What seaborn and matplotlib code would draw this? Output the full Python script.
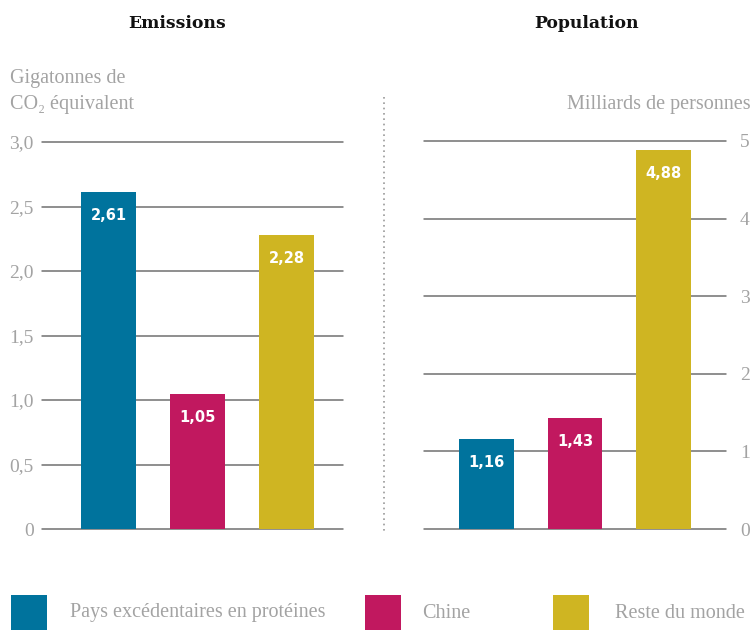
import matplotlib
matplotlib.use("Agg")
import matplotlib.pyplot as plt
import seaborn as sns
import pandas as pd
from matplotlib.patches import Rectangle
from matplotlib.lines import Line2D

# Data
categories = ["Pays excédentaires en protéines", "Chine", "Reste du monde"]
emissions = [2.61, 1.05, 2.28]
population = [1.16, 1.43, 4.88]
emission_ticks = [0, 0.5, 1.0, 1.5, 2.0, 2.5, 3.0]
emission_tick_labels = ["0", "0,5", "1,0", "1,5", "2,0", "2,5", "3,0"]
population_ticks = [0, 1, 2, 3, 4, 5]
population_tick_labels = ["0", "1", "2", "3", "4", "5"]
colors = ["#00739d", "#c1185f", "#cfb522"]

sns.set_theme(style="white")
plt.rcParams["font.family"] = ["DejaVu Sans"]

W, H = 753, 630
fig = plt.figure(figsize=(W / 100, H / 100), dpi=100)

LIGHT = ["Liberation Serif", "DejaVu Serif"]
GREY_TXT = "#a3a3a3"
GRID = "#707070"


def px_axes(x0, x1, ytop, ybot):
    return fig.add_axes([x0 / W, (H - ybot) / H, (x1 - x0) / W, (ybot - ytop) / H])


def draw_panel(ax, values, ticks, tick_labels, ymax, xlim, right):
    df = pd.DataFrame({"cat": categories, "val": values})
    sns.barplot(data=df, x="cat", y="val", hue="cat", palette=colors,
                legend=False, ax=ax, width=0.62, saturation=1, zorder=3,
                linewidth=0, edgecolor="none")
    ax.set_ylim(0, ymax)
    ax.set_xlim(*xlim)
    ax.set_xticks([])
    ax.set_xlabel("")
    ax.set_ylabel("")
    ax.set_yticks(ticks)
    ax.set_yticklabels(tick_labels, family=LIGHT, fontsize=14, color=GREY_TXT)
    for s in ax.spines.values():
        s.set_visible(False)
    ax.set_facecolor("none")
    for t in ticks:
        ax.axhline(t, color=GRID, lw=1.1, zorder=1, clip_on=False)
    if right:
        ax.yaxis.tick_right()
        ax.tick_params(axis="y", length=0, pad=10)
    else:
        ax.tick_params(axis="y", length=0, pad=6)
    for i, v in enumerate(values):
        ax.annotate(f"{v:.2f}".replace(".", ","), (i, v), xytext=(0, -17),
                    textcoords="offset points", ha="center", va="center",
                    color="white", fontsize=10.5, fontweight="bold", zorder=5)


ax1 = px_axes(42, 343, 142, 529)
draw_panel(ax1, emissions, emission_ticks, emission_tick_labels, 3.0,
           (-0.747, 2.635), right=False)

ax2 = px_axes(424, 726, 141, 529)
draw_panel(ax2, population, population_ticks, population_tick_labels, 5.0,
           (-0.706, 2.706), right=True)

# Panel titles
fig.text(177 / W, 1 - 23 / H, "Emissions", ha="center", va="center",
         family="DejaVu Serif", fontweight="bold", fontsize=12.4, color="#111111")
fig.text(587 / W, 1 - 23 / H, "Population", ha="center", va="center",
         family="DejaVu Serif", fontweight="bold", fontsize=12.4, color="#111111")

# Axis units
fig.text(10 / W, 1 - 79 / H, "Gigatonnes de", ha="left", va="center",
         family=LIGHT, fontsize=14.5, color=GREY_TXT)
fig.text(10 / W, 1 - 104 / H, "CO\u2082 équivalent", ha="left", va="center",
         family=LIGHT, fontsize=14.5, color=GREY_TXT)
fig.text(751 / W, 1 - 104 / H, "Milliards de personnes", ha="right", va="center",
         family=LIGHT, fontsize=14.5, color=GREY_TXT)

# Dotted divider between the panels
fig.add_artist(Line2D([384 / W, 384 / W], [1 - 97 / H, 1 - 531 / H],
                      transform=fig.transFigure, color="#9a9a9a", lw=1.2,
                      linestyle=(0, (1, 2.2))))

# Legend
legend_items = [(11, 70), (365, 422), (553, 615)]
for (sx, tx), c, label in zip(legend_items, colors, categories):
    fig.add_artist(Rectangle((sx / W, 0), 36 / W, 35 / H,
                             transform=fig.transFigure, color=c, lw=0))
    fig.text(tx / W, 1 - 613 / H, label, ha="left", va="center",
             family=LIGHT, fontsize=14.5, color=GREY_TXT)

fig.savefig("out.png", dpi=100, facecolor="white")
